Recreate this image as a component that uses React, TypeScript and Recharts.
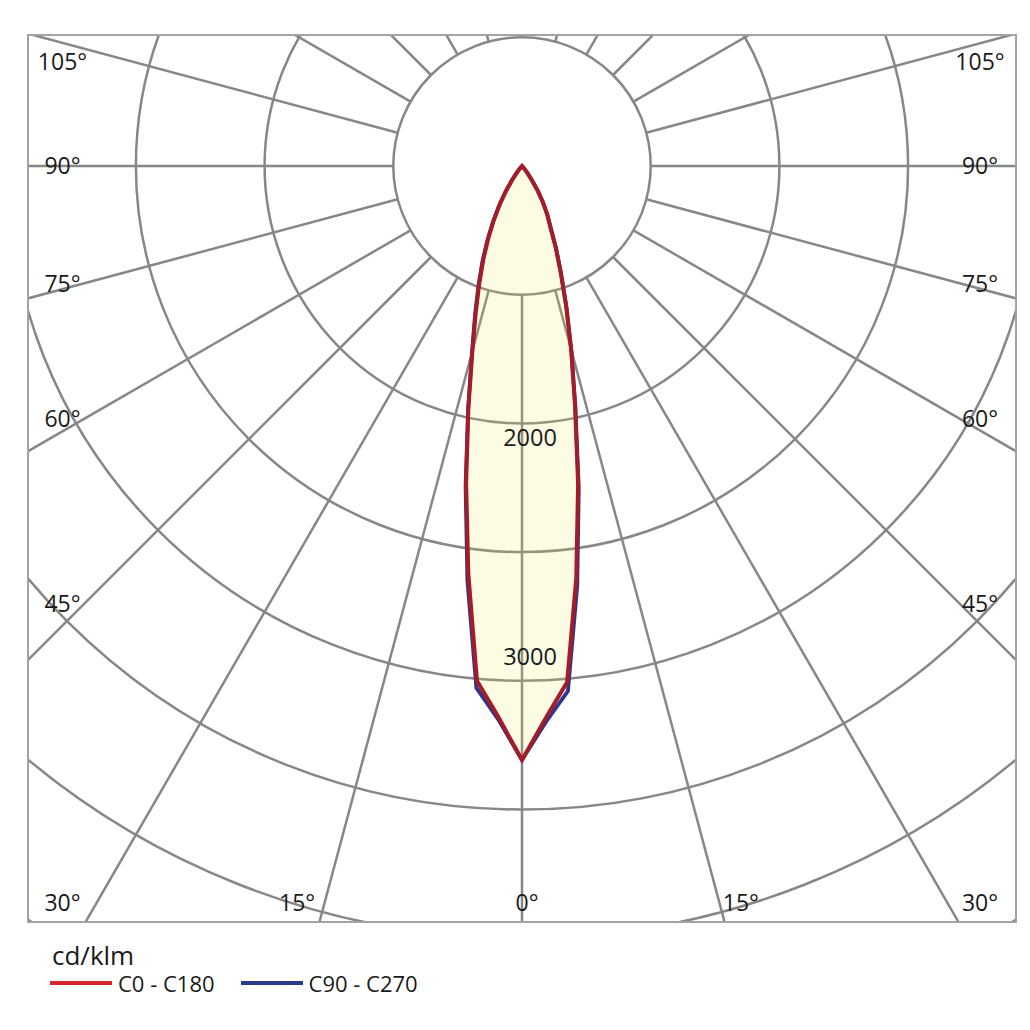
import React from 'react';
import { RadarChart, Radar, PolarGrid, PolarAngleAxis, PolarRadiusAxis, Legend } from 'recharts';

// gamma angles (deg from nadir) and intensities in cd/klm
const GAMMA = [0, 2.5, 5, 7.5, 10, 12.5, 15, 17.5, 20, 22.5, 25, 27.5, 30, 32.5, 35, 37.5, 40, 42.5, 45, 60, 75, 90, 105, 120, 135, 150, 165, 180];
const C0 = [4615, 4290, 4025, 3230, 2510, 1905, 1475, 1140, 880, 685, 520, 425, 325, 225, 130, 70, 30, 8, 0, 0, 0, 0, 0, 0, 0, 0, 0, 0];
const C180 = [4615, 4280, 4015, 3195, 2500, 1925, 1490, 1195, 970, 785, 620, 475, 350, 235, 140, 70, 30, 10, 0, 0, 0, 0, 0, 0, 0, 0, 0, 0];
const C90 = [4615, 4320, 4095, 3290, 2540, 1915, 1480, 1150, 885, 690, 525, 425, 325, 225, 130, 70, 30, 8, 0, 0, 0, 0, 0, 0, 0, 0, 0, 0];
const C270 = [4615, 4300, 4070, 3250, 2525, 1935, 1500, 1215, 990, 805, 635, 485, 355, 240, 140, 70, 30, 10, 0, 0, 0, 0, 0, 0, 0, 0, 0, 0];

const ANGLE_TICKS = [0, 15, 30, 45, 60, 75, 90, 105, 120, 135, 150, 165, 180, 195, 210, 225, 240, 255, 270, 285, 300, 315, 330, 345];
const RADIUS_TICKS = [1000, 2000, 3000, 4000, 5000, 6000, 7000, 8000];
const UNIT = 'cd/klm';

const SERIES = [
  { key: 'c0', name: 'C0 - C180', stroke: '#a51c26', legend: '#d8262f' },
  { key: 'c90', name: 'C90 - C270', stroke: '#2d3590', legend: '#2c3a8e' },
];

// left half of the diagram is C180 / C270, right half C0 / C90
const rows = [
  ...GAMMA.map((g, i) => ({ phi: g, c0: C180[i], c90: C270[i] })),
  ...GAMMA.map((g, i) => ({ phi: 360 - g, c0: C0[i], c90: C90[i] }))
    .filter(r => r.phi > 180 && r.phi < 360)
    .reverse(),
];

const FONT = '"Open Sans", "Noto Sans", sans-serif';
const W = 988;
const H = 887;
const CX = 494;
const CY = 131;
const RING_PX = 128.7;

const LABEL_LEFT = 34.5;
const LABEL_RIGHT = 952;
const LABEL_TOP = 27;
const LABEL_BOTTOM = 868;

const AngleTick = (props: any) => {
  const phi = props.payload.value;
  const gamma = phi <= 180 ? phi : 360 - phi;
  if (gamma > 105) return null;
  const side = phi === 0 ? 0 : phi < 180 ? -1 : 1;
  const t = Math.tan((gamma * Math.PI) / 180);
  let x: number;
  let y: number;
  if (gamma < 30) {
    x = phi === 0 ? CX + 5 : CX - 3 + side * t * 828;
    y = LABEL_BOTTOM;
  } else {
    x = side < 0 ? LABEL_LEFT : LABEL_RIGHT;
    y = Math.max(LABEL_TOP, Math.min(LABEL_BOTTOM, CY + 438 / t));
  }
  return (
    <text x={x} y={y} dy="0.36em" textAnchor="middle" fontSize={23} fontFamily={FONT} fill="#1a1a1a">
      {`${gamma}°`}
    </text>
  );
};

// only two intensity values are printed, nudged where the original puts them
const RADIUS_LABEL_SHIFT: Record<number, number> = { 2000: 14, 3000: 104 };

const RadiusTick = (props: any) => {
  const { x, y, payload } = props;
  const shift = RADIUS_LABEL_SHIFT[payload.value];
  if (shift === undefined) return null;
  return (
    <text x={x + 8} y={y + shift} dy="0.36em" textAnchor="middle" fontSize={23.5} fontFamily={FONT} fill="#1a1a1a">
      {payload.value}
    </text>
  );
};

const LegendBox = () => (
  <div style={{ fontFamily: FONT, color: '#1a1a1a' }}>
    <div style={{ fontSize: 26, lineHeight: '28px', marginLeft: 2, marginTop: 1 }}>{UNIT}</div>
    <div style={{ display: 'flex', alignItems: 'center', marginTop: 1 }}>
      {SERIES.map(s => (
        <div key={s.key} style={{ display: 'flex', alignItems: 'center', marginRight: 26 }}>
          <span style={{ display: 'inline-block', width: 62, height: 4, background: s.legend, marginRight: 6 }} />
          <span style={{ fontSize: 22, lineHeight: '26px' }}>{s.name}</span>
        </div>
      ))}
    </div>
  </div>
);

export default function App() {
  return (
    <div style={{ position: 'absolute', left: 0, top: 0, width: 1030, height: 1030, background: '#fff' }}>
      <div style={{ position: 'absolute', left: 28, top: 35, width: W, height: H }}>
        <RadarChart
          width={W}
          height={H}
          data={rows}
          cx={CX}
          cy={CY}
          innerRadius={RING_PX}
          outerRadius={RING_PX * 8}
          startAngle={-90}
          endAngle={-450}
          margin={{ top: 0, right: 0, bottom: 0, left: 0 }}
        >
          <PolarGrid gridType="circle" stroke="#878787" strokeWidth={2.5} />
          <PolarAngleAxis
            dataKey="phi"
            type="number"
            domain={[0, 360]}
            ticks={ANGLE_TICKS}
            allowDataOverflow
            axisLine={false}
            tickLine={false}
            tick={AngleTick}
          />
          <PolarRadiusAxis
            angle={-90}
            type="number"
            domain={[1000, 8000]}
            ticks={RADIUS_TICKS as any}
            tickCount={8}
            allowDataOverflow
            axisLine={false}
            tickLine={false}
            tick={RadiusTick}
          />
          <Radar
            dataKey="c90"
            name="C90 - C270"
            stroke={SERIES[1].stroke}
            strokeWidth={3.8}
            fill="none"
            dot={false}
            isAnimationActive={false}
          />
          <Radar
            dataKey="c0"
            name="C0 - C180"
            stroke={SERIES[0].stroke}
            strokeWidth={4}
            fill="#ebe44b"
            fillOpacity={0.15}
            dot={false}
            isAnimationActive={false}
          />
          <Legend
            content={() => <LegendBox />}
            wrapperStyle={{ position: 'absolute', left: 22, top: 905, width: 420, height: 70 }}
          />
        </RadarChart>
      </div>
      <div
        style={{
          position: 'absolute',
          left: 27,
          top: 34,
          width: 990,
          height: 889,
          boxSizing: 'border-box',
          border: '2px solid #a3a3a3',
          pointerEvents: 'none',
        }}
      />
    </div>
  );
}
